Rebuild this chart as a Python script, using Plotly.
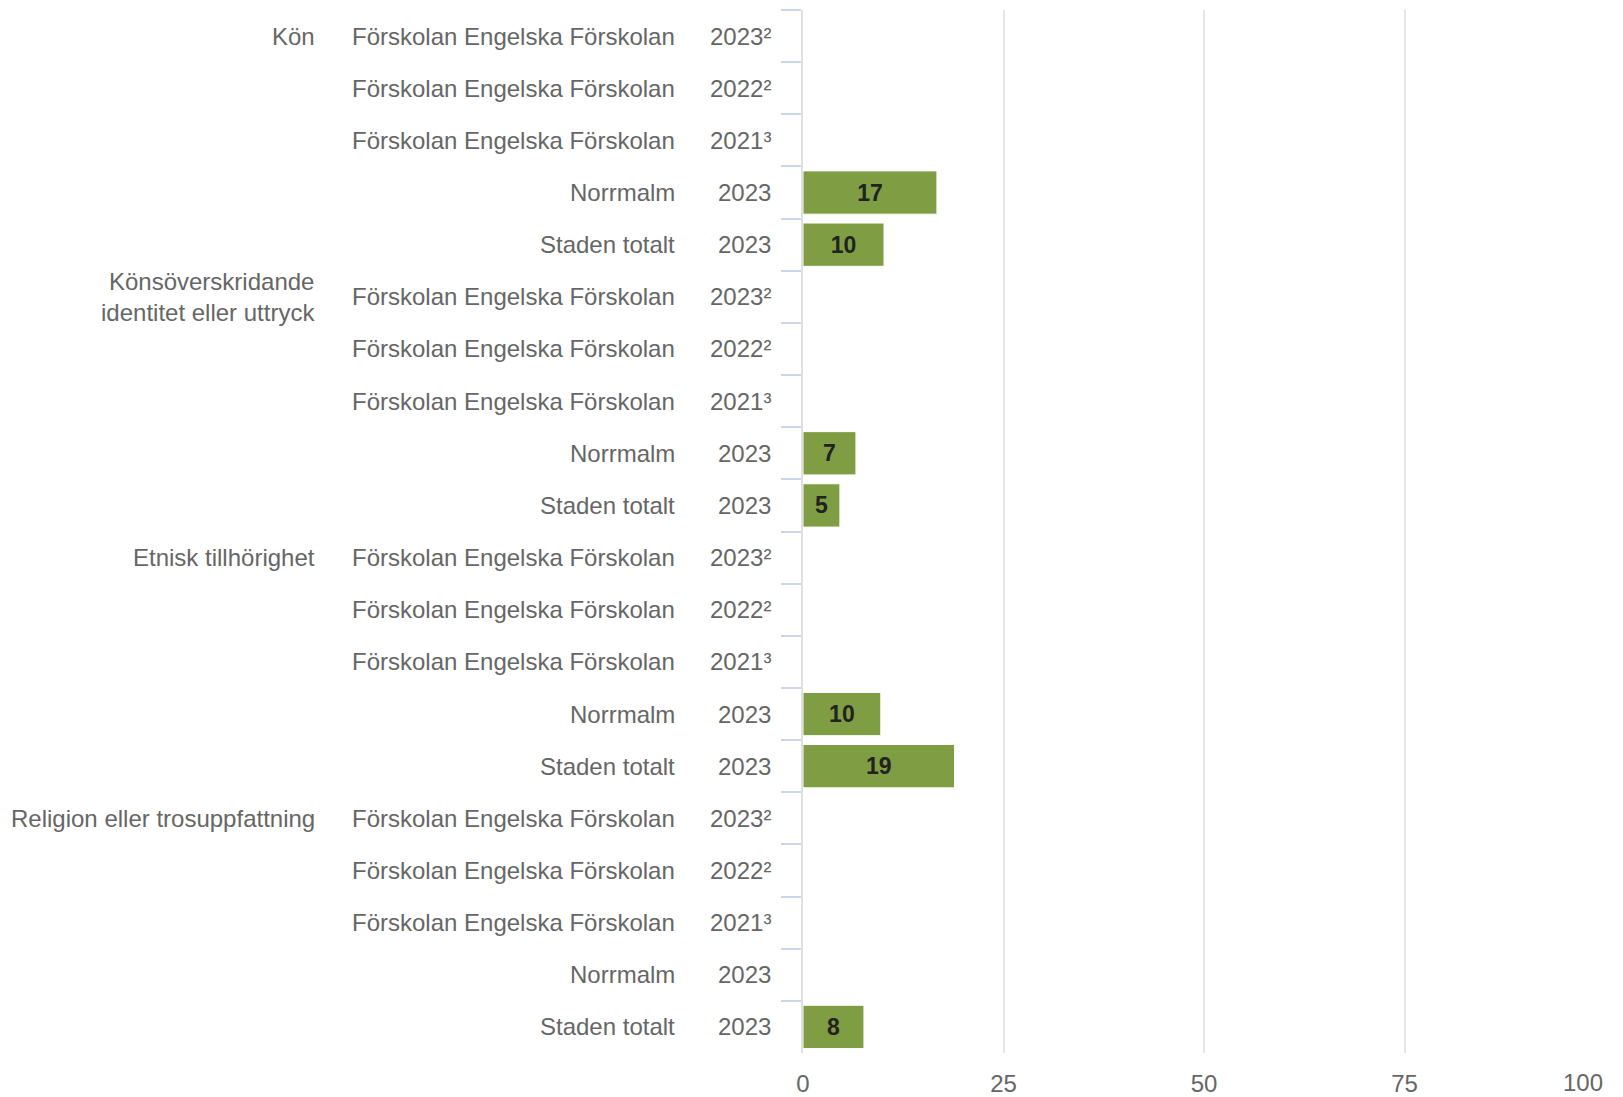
import plotly.graph_objects as go

groups = ["Kön", "Könsöverskridande<br>identitet eller uttryck", "Etnisk tillhörighet", "Religion eller trosuppfattning"]
units = ["Förskolan Engelska Förskolan", "Förskolan Engelska Förskolan", "Förskolan Engelska Förskolan", "Norrmalm", "Staden totalt"]
years = ["2023²", "2022²", "2021³", "2023", "2023"]

values_kon = [None, None, None, 16.7, 10.1]
values_identitet = [None, None, None, 6.6, 4.6]
values_etnisk = [None, None, None, 9.7, 18.9]
values_religion = [None, None, None, None, 7.6]
all_values = [values_kon, values_identitet, values_etnisk, values_religion]

x_ticks = [0, 25, 50, 75, 100]
x_tick_labels = ["0", "25", "50", "75", "100"]

cats, xs = [], []
for gi, g in enumerate(groups):
    for ui, (u, yr) in enumerate(zip(units, years)):
        cats.append(f"{gi}|{u}|{yr}|{ui}")
        xs.append(all_values[gi][ui])

FONT = "Liberation Sans, Arial, Helvetica, sans-serif"
GRAY = "#666666"
FS = 24

# the last tick label is drawn right-aligned to its gridline (kept inside the chart, as in the reference)
tick_text = [t if v < max(x_ticks) else "" for v, t in zip(x_ticks, x_tick_labels)]

fig = go.Figure(go.Bar(
    x=xs, y=cats, orientation="h",
    marker=dict(color="#7f9d42", line=dict(color="#ffffff", width=1)),
    texttemplate="%{x:.0f}", textposition="inside", insidetextanchor="middle",
    textfont=dict(family=FONT, size=23, color="#222222", weight="bold"),
    constraintext="none", cliponaxis=False, hoverinfo="skip",
))

ann = []
for gi, g in enumerate(groups):
    for ui, (u, yr) in enumerate(zip(units, years)):
        c = f"{gi}|{u}|{yr}|{ui}"
        ann.append(dict(x=0, xref="paper", y=c, yref="y", text=yr, showarrow=False,
                        xanchor="right", xshift=-30, font=dict(family=FONT, size=FS, color=GRAY)))
        ann.append(dict(x=0, xref="paper", y=c, yref="y", text=u, showarrow=False,
                        xanchor="right", xshift=-126, font=dict(family=FONT, size=FS, color=GRAY)))
    ann.append(dict(x=0, xref="paper", y=f"{gi}|{units[0]}|{years[0]}|0", yref="y", text=g,
                    showarrow=False, xanchor="right", align="right", xshift=-486,
                    font=dict(family=FONT, size=FS, color=GRAY)))
ann.append(dict(x=x_ticks[-1], xref="x", y=0, yref="paper", text=x_tick_labels[-1], showarrow=False,
                xanchor="right", yanchor="top", yshift=-14, font=dict(family=FONT, size=FS, color=GRAY)))

# page body has an 8px margin; the figure is sized to fill the rest of the window
fig.update_layout(
    width=1615, height=1089,
    margin=dict(l=795, r=18, t=2, b=44, autoexpand=False),
    paper_bgcolor="white", plot_bgcolor="white",
    bargap=0.17, showlegend=False,
    annotations=ann,
    xaxis=dict(range=[0, 100], tickvals=x_ticks, ticktext=tick_text, showgrid=True,
               gridcolor="#e6e6e6", gridwidth=2, automargin=False,
               zeroline=False, showline=False, ticks="", ticklabelstandoff=14,
               tickfont=dict(family=FONT, size=FS, color=GRAY)),
    yaxis=dict(type="category", categoryorder="array", categoryarray=cats, autorange="reversed",
               automargin=False,
               showticklabels=False, ticks="outside", tickson="boundaries", ticklen=20,
               tickcolor="#ccd6eb", tickwidth=2, showline=True, linecolor="#e0e0e0", linewidth=2,
               showgrid=False, zeroline=False),
)

fig.write_html("out.html")
